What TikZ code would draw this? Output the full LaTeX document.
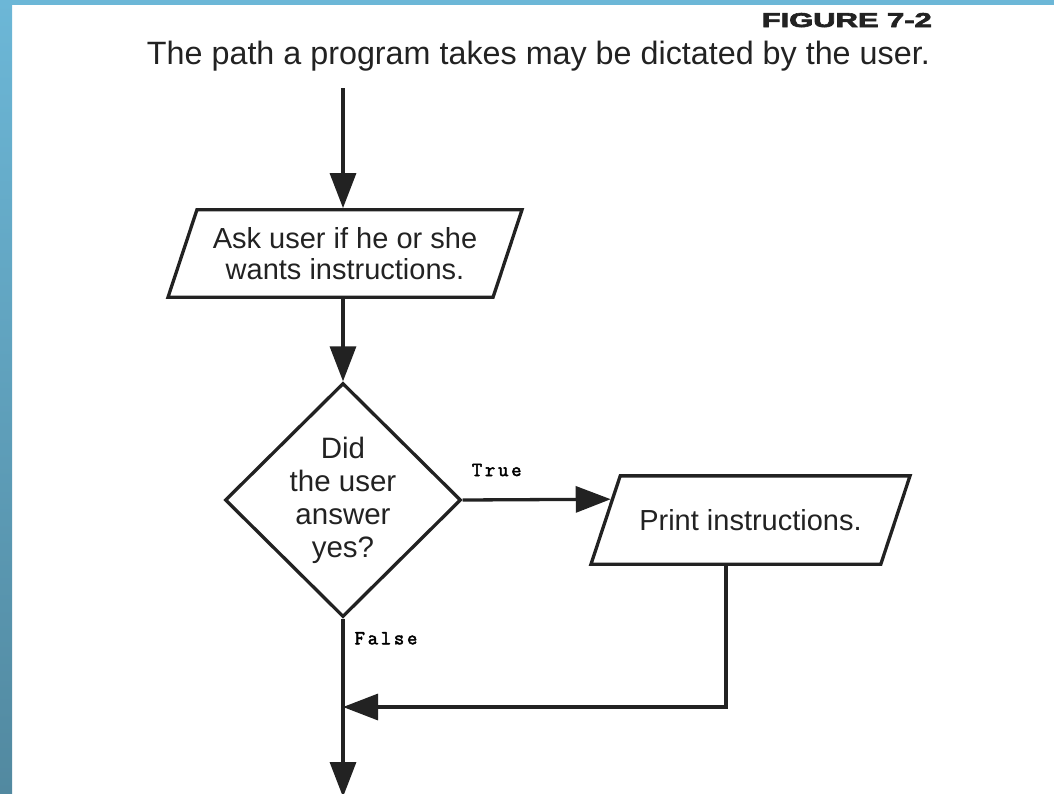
\documentclass[tikz,border=0pt]{standalone}
\usepackage{graphicx}
\usepackage{fontspec}
\setmainfont{Liberation Sans}
\newfontfamily\figfont[BoldFeatures={FakeBold=3}]{Liberation Sans}
\newfontfamily\flowlabel[LetterSpace=14, FakeBold=2.5]{Latin Modern Mono}
\usetikzlibrary{shapes.geometric, arrows.meta, calc}

\definecolor{frameblue}{HTML}{6CB7D7}
\definecolor{framedark}{HTML}{5289A0}
\definecolor{ink}{HTML}{222222}

\tikzset{
  io/.style={trapezium, trapezium left angle=71.7, trapezium right angle=108.3,
    trapezium stretches body=true, draw=ink, line width=3.3pt, inner xsep=0pt,
    align=center, text=ink, font=\fontsize{29}{31}\selectfont},
  decision/.style={diamond, draw=ink, line width=3.3pt, inner sep=0pt,
    minimum width=236pt, minimum height=234pt, align=center, text=ink,
    font=\fontsize{29.5}{33}\selectfont},
  flow/.style={draw=ink, line width=3.3pt, -{Triangle[length=35pt, width=26pt]}},
  branch/.style={font=\flowlabel\fontsize{20}{20}\selectfont, inner sep=0pt, text=black},
}

\begin{document}
\begin{tikzpicture}[x=1pt, y=-1pt]
      \useasboundingbox (0,0) rectangle (1054,793);
      \fill[frameblue] (0,0) rectangle (1054,5);
      \shade[top color=frameblue, bottom color=framedark] (0,0) rectangle (12,793);
      \node[anchor=base east, text=ink, inner sep=0pt] (Fig) at (932,27) {\resizebox{170pt}{14pt}{\figfont\bfseries FIGURE 7-2}};
      \node[anchor=base east, text=ink, inner sep=0pt, font=\fontsize{32.3}{32}\selectfont] (Caption) at (930,64) {The path a program takes may be dictated by the user.};
      \coordinate (Start) at (343,88);
      \node[io, minimum width=354pt, inner ysep=17.6pt] (Ask) at (345,253.5) {Ask user if he or she\\wants instructions.};
      \node[decision] (Check) at (343,500) {Did\\the user\\answer\\yes?};
      \node[io, minimum width=319pt, inner ysep=33.5pt] (Print) at (750.5,520) {Print instructions.};
      \coordinate (Join) at (343,707);
      \coordinate (Turn) at (726,707);
      \coordinate (End) at (343,797);
      \draw[flow] (Start) -- (Start |- Ask.north);
      \draw[flow] (Check.north |- Ask.south) -- (Check.north);
      \draw[flow] (Check.east) -- ($(Print.bottom left corner)!0.727!(Print.top left corner)$) node[branch, pos=0.23, above=22pt] {True};
      \draw[flow] (Check.south) -- (End) node[branch, pos=0.11, right=10pt] {False};
      \draw[flow] (Print.south -| Turn) -- (Turn) -- (Join);
    \end{tikzpicture}
\end{document}
